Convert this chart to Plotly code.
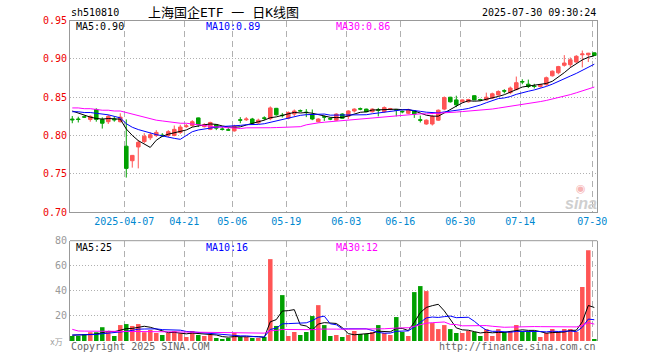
import plotly.graph_objects as go
import pandas as pd

# ---------------- data ----------------
holidays = ["2025-04-04", "2025-05-01", "2025-05-02", "2025-05-05", "2025-06-02"]
dates = [d.strftime("%Y-%m-%d") for d in pd.bdate_range("2025-03-24", "2025-07-30")
         if d.strftime("%Y-%m-%d") not in holidays]

opens = [0.8215,0.8215,0.8245,0.8210,0.8340,0.8210,0.8180,0.8215,0.8180,0.7860,
         0.7670,0.7850,0.7920,0.7970,0.8000,0.8005,0.8000,0.8000,0.8040,0.8115,
         0.8130,0.8230,0.8115,0.8080,0.8140,0.8085,0.8075,0.8060,0.8205,0.8205,
         0.8215,0.8165,0.8230,0.8220,0.8355,0.8265,0.8225,0.8280,0.8325,0.8305,
         0.8270,0.8180,0.8245,0.8220,0.8200,0.8280,0.8250,0.8320,0.8350,0.8345,
         0.8310,0.8335,0.8310,0.8340,0.8335,0.8315,0.8290,0.8320,0.8205,0.8150,
         0.8150,0.8200,0.8345,0.8500,0.8465,0.8440,0.8440,0.8520,0.8470,0.8465,
         0.8490,0.8530,0.8585,0.8560,0.8600,0.8705,0.8670,0.8645,0.8640,0.8665,
         0.8780,0.8820,0.8917,0.8925,0.8960,0.9055,0.9055,0.9080]
closes = [0.8205,0.8210,0.8240,0.8250,0.8210,0.8160,0.8250,0.8205,0.8240,0.7570,
          0.7740,0.7910,0.7990,0.8010,0.8040,0.7995,0.8050,0.8080,0.8110,0.8125,
          0.8180,0.8140,0.8140,0.8170,0.8095,0.8080,0.8070,0.8120,0.8200,0.8215,
          0.8160,0.8200,0.8225,0.8360,0.8270,0.8260,0.8300,0.8320,0.8320,0.8300,
          0.8215,0.8215,0.8240,0.8215,0.8280,0.8225,0.8320,0.8345,0.8345,0.8310,
          0.8345,0.8330,0.8365,0.8350,0.8330,0.8310,0.8335,0.8280,0.8200,0.8200,
          0.8250,0.8330,0.8495,0.8440,0.8400,0.8465,0.8470,0.8465,0.8465,0.8500,
          0.8545,0.8575,0.8580,0.8620,0.8690,0.8700,0.8640,0.8640,0.8665,0.8755,
          0.8840,0.8900,0.8947,0.8990,0.9035,0.9065,0.9075,0.9045]
highs = [0.8255,0.8245,0.8260,0.8263,0.8355,0.8237,0.8270,0.8254,0.8290,0.8210,
         0.7745,0.7940,0.8030,0.8040,0.8070,0.8030,0.8070,0.8130,0.8140,0.8150,
         0.8200,0.8235,0.8160,0.8180,0.8150,0.8110,0.8100,0.8140,0.8240,0.8240,
         0.8230,0.8220,0.8250,0.8380,0.8360,0.8295,0.8315,0.8340,0.8340,0.8345,
         0.8340,0.8225,0.8260,0.8235,0.8290,0.8290,0.8330,0.8355,0.8365,0.8350,
         0.8355,0.8360,0.8380,0.8360,0.8345,0.8325,0.8350,0.8330,0.8260,0.8210,
         0.8270,0.8340,0.8510,0.8505,0.8520,0.8470,0.8480,0.8525,0.8480,0.8560,
         0.8560,0.8590,0.8605,0.8640,0.8770,0.8735,0.8730,0.8675,0.8670,0.8770,
         0.8850,0.8910,0.9050,0.9020,0.9050,0.9110,0.9080,0.9085]
lows = [0.8160,0.8170,0.8230,0.8180,0.8180,0.8090,0.8150,0.8180,0.8170,0.7450,
        0.7580,0.7570,0.7900,0.7940,0.7980,0.7980,0.7980,0.7990,0.8020,0.8100,
        0.8110,0.8110,0.8105,0.8070,0.8070,0.8065,0.8060,0.8050,0.8160,0.8190,
        0.8150,0.8150,0.8200,0.8200,0.8260,0.8235,0.8210,0.8255,0.8310,0.8240,
        0.8200,0.8170,0.8190,0.8200,0.8190,0.8220,0.8215,0.8300,0.8330,0.8305,
        0.8300,0.8250,0.8300,0.8330,0.8250,0.8290,0.8280,0.8230,0.8170,0.8140,
        0.8130,0.8190,0.8330,0.8430,0.8370,0.8430,0.8430,0.8460,0.8450,0.8455,
        0.8480,0.8520,0.8550,0.8540,0.8590,0.8670,0.8620,0.8615,0.8625,0.8650,
        0.8770,0.8800,0.8900,0.8890,0.8950,0.8890,0.8960,0.9040]
volumes = [4.0,4.0,5.6,7.0,7.0,11.0,8.0,4.0,12.7,13.5,
           12.0,13.5,7.0,8.8,6.4,4.8,6.4,8.0,6.1,3.2,
           8.0,4.8,4.0,4.8,2.4,1.6,2.4,6.4,3.2,3.2,
           2.4,2.4,3.2,65.3,12.0,36.6,4.0,7.2,4.8,7.2,
           19.9,28.6,12.7,4.0,4.8,3.2,4.8,8.0,5.6,5.6,
           7.2,12.7,6.4,4.8,19.1,7.2,4.0,39.0,43.8,39.8,
           14.3,9.5,12.7,9.5,6.4,6.4,8.0,7.2,4.0,9.5,
           4.0,9.5,7.2,8.0,12.7,7.2,7.2,7.2,3.2,6.4,
           9.5,7.2,9.5,9.5,7.2,43.0,72.4,1.6]

# moving-average values at the start of the window (history not shown)
ma5_head = [0.832, 0.829, 0.826, 0.824]
ma10_head = [0.831, 0.831, 0.830, 0.830, 0.829, 0.828, 0.827, 0.825, 0.823]
ma30_head = [0.836, 0.836, 0.835, 0.835, 0.834, 0.833, 0.833, 0.832, 0.832, 0.830,
             0.828, 0.825, 0.823, 0.821, 0.820, 0.819, 0.818, 0.817, 0.816, 0.816,
             0.815, 0.814, 0.813, 0.812, 0.811, 0.811, 0.810, 0.810, 0.809]
vma5_head = [4.6, 4.6, 4.8, 5.2]
vma10_head = [4.8, 4.8, 4.9, 5.0, 5.2, 5.8, 6.2, 6.5, 7.0]
vma30_head = [9.3, 8.0, 7.9, 7.9, 7.8, 7.8, 7.8, 7.8, 7.8, 7.7,
              7.7, 7.7, 7.6, 7.6, 7.5, 7.5, 7.4, 7.3, 7.2, 7.1,
              7.0, 6.9, 6.8, 6.7, 6.6, 6.5, 6.5, 6.4, 6.4]

price_ma_last = ["0.90", "0.89", "0.86"]
vol_ma_last = ["25", "16", "12"]

tick_dates = ["2025-04-07", "2025-04-21", "2025-05-06", "2025-05-19", "2025-06-03",
              "2025-06-16", "2025-06-30", "2025-07-14", "2025-07-30"]
price_ticks = [0.70, 0.75, 0.80, 0.85, 0.90, 0.95]
vol_ticks = [20, 40, 60, 80]

symbol = "sh510810"
title = "上海国企ETF 一 日K线图"
stamp = "2025-07-30 09:30:24"

# ---------------- helpers ----------------
def moving_avg(vals, n, head):
    out = list(head)
    for i in range(len(head), len(vals)):
        w = vals[i - n + 1:i + 1]
        out.append(sum(w) / n)
    return out

n = len(dates)
xs = list(range(n))
ma5 = moving_avg(closes, 5, ma5_head)
ma10 = moving_avg(closes, 10, ma10_head)
ma30 = moving_avg(closes, 30, ma30_head)
vma5 = moving_avg(volumes, 5, vma5_head)
vma10 = moving_avg(volumes, 10, vma10_head)
vma30 = moving_avg(volumes, 30, vma30_head)

RED = "#ff5555"
GREEN = "#00a000"
MONO = "DejaVu Sans Mono, Liberation Mono, monospace"
GRID = "#b0b0b0"
FRAME = "#999999"
VDASH = "6px,4px"
HDOT = "1px,2px"

fig = go.Figure()

fig.add_trace(go.Candlestick(
    x=xs, open=opens, high=highs, low=lows, close=closes,
    increasing=dict(line=dict(color=RED, width=1), fillcolor=RED),
    decreasing=dict(line=dict(color=GREEN, width=1), fillcolor=GREEN),
    whiskerwidth=0, xaxis="x", yaxis="y", hoverinfo="skip", showlegend=False))

for vals, col in [(ma5, "#000000"), (ma10, "#0000ff"), (ma30, "#ff00ff")]:
    fig.add_trace(go.Scatter(x=xs, y=vals, mode="lines", line=dict(color=col, width=1),
                             xaxis="x", yaxis="y", hoverinfo="skip", showlegend=False))

vcolors = [RED if c >= o else GREEN for o, c in zip(opens, closes)]
fig.add_trace(go.Bar(x=xs, y=volumes, marker=dict(color=vcolors, line=dict(width=0)),
                     width=0.75, xaxis="x2", yaxis="y2", hoverinfo="skip", showlegend=False))
for vals, col in [(vma5, "#000000"), (vma10, "#0000ff"), (vma30, "#ff00ff")]:
    fig.add_trace(go.Scatter(x=xs, y=vals, mode="lines", line=dict(color=col, width=1),
                             xaxis="x2", yaxis="y2", hoverinfo="skip", showlegend=False))

W, H = 660, 360
L, R = 70, 597.3
MT, MB = 20.7, 212
VT, VB = 240.7, 341

tickpos = [dates.index(d) - 1 / 3 for d in tick_dates]
ticktext = [tick_dates[0]] + [d[5:] for d in tick_dates[1:]]
xrange = [-0.38, 87.5]

fig.update_layout(
    width=W, height=H, margin=dict(l=0, r=0, t=0, b=0, pad=0, autoexpand=False),
    paper_bgcolor="white", plot_bgcolor="white",
    boxgap=0.15,
    font=dict(family=MONO, size=10),
    xaxis=dict(domain=[L / W, R / W], range=xrange, anchor="y", automargin=False,
               tickvals=tickpos, ticktext=ticktext, ticks="",
               tickfont=dict(color="#0088d0", size=10, family=MONO),
               showgrid=True, gridcolor=GRID, griddash=VDASH, gridwidth=1,
               showline=True, linecolor=FRAME, linewidth=1, mirror=True,
               zeroline=False, rangeslider=dict(visible=False), fixedrange=True),
    yaxis=dict(domain=[1 - MB / H, 1 - MT / H], range=[0.70, 0.95], anchor="x",
               automargin=False,
               tickvals=price_ticks, ticktext=[f"{v:.2f}" for v in price_ticks], ticks="",
               tickfont=dict(color="#ee0000", size=10, family=MONO),
               showgrid=True, gridcolor=GRID, griddash=HDOT, gridwidth=1,
               showline=True, linecolor=FRAME, linewidth=1, mirror=True,
               zeroline=False, fixedrange=True),
    xaxis2=dict(domain=[L / W, R / W], range=xrange, anchor="y2", automargin=False,
                tickvals=tickpos, showticklabels=False, ticks="",
                showgrid=True, gridcolor=GRID, griddash=VDASH, gridwidth=1,
                showline=False, zeroline=False, fixedrange=True),
    yaxis2=dict(domain=[1 - VB / H, 1 - VT / H], range=[0, 80], anchor="x2",
                automargin=False,
                tickvals=vol_ticks, ticktext=[str(v) for v in vol_ticks], ticks="",
                tickfont=dict(color="#999999", size=10, family=MONO),
                showgrid=True, gridcolor=GRID, griddash=HDOT, gridwidth=1,
                showline=True, linecolor=FRAME, linewidth=1, mirror=True,
                zeroline=False, fixedrange=True),
)

# top border of the volume panel
fig.add_shape(type="line", xref="paper", yref="paper", x0=L / W, x1=R / W,
              y0=1 - VT / H, y1=1 - VT / H, line=dict(color=FRAME, width=1))


def px_ann(text, x, y, color, size=10, xanchor="left", family=MONO, **kw):
    fig.add_annotation(text=text, x=x / W, y=1 - y / H, xref="paper", yref="paper",
                       xanchor=xanchor, yanchor="middle", showarrow=False,
                       font=dict(color=color, size=size, family=family), **kw)

px_ann(symbol, 69, 13, "#000000")
px_ann(title, 223.5, 13, "#000000", size=13, xanchor="center",
       family="DejaVu Sans Mono, Noto Sans CJK SC")
px_ann(stamp, 598, 13, "#000000", xanchor="right")

px_ann(f"MA5:{price_ma_last[0]}", 74, 27, "#000000")
px_ann(f"MA10:{price_ma_last[1]}", 204, 27, "#0000ff")
px_ann(f"MA30:{price_ma_last[2]}", 334, 27, "#ff00ff")

px_ann(f"MA5:{vol_ma_last[0]}", 74, 247, "#000000")
px_ann(f"MA10:{vol_ma_last[1]}", 204, 247, "#0000ff")
px_ann(f"MA30:{vol_ma_last[2]}", 334, 247, "#ff00ff")

px_ann("x万", 65, 342, "#999999", size=8, xanchor="right",
       family="DejaVu Sans Mono, Noto Sans CJK SC")
px_ann("Copyright 2025 SINA.COM", 69, 346, "#666666")
px_ann("http://finance.sina.com.cn", 598, 346, "#666666", xanchor="right")

# sina watermark
px_ann("<b><i>sina</i></b>", 581, 203, "#cfcfcf", size=16, xanchor="center",
       family="Liberation Sans, Arial")
px_ann("◉", 581, 188, "#f6b4b4", size=11, xanchor="center", family="DejaVu Sans")

fig.write_html("out.html", config={"displayModeBar": False, "staticPlot": True},
               post_script="document.body.style.margin='0';document.body.style.overflow='hidden';")
